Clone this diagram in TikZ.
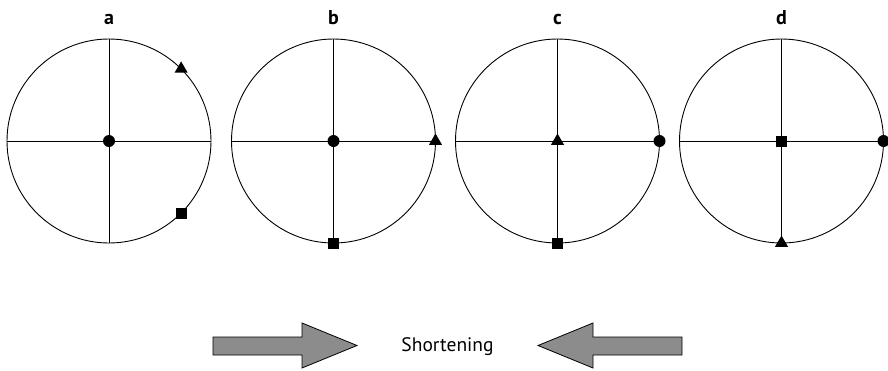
\documentclass[tikz,border=0pt]{standalone}
\usepackage{fontspec}
\setmainfont{PT Sans}
\usetikzlibrary{shapes.geometric}
\begin{document}
\begin{tikzpicture}[x=1pt,y=-1pt,
  ring/.style={circle,draw=black,line width=0.9pt,minimum size=204pt,inner sep=0pt,outer sep=0pt},
  axis/.style={line width=0.9pt,draw=black},
  dotm/.style={circle,fill=black,minimum size=12pt,inner sep=0pt},
  sqm/.style={rectangle,fill=black,minimum size=11pt,inner sep=0pt},
  trim/.style={regular polygon,regular polygon sides=3,fill=black,minimum size=15pt,inner sep=0pt},
  lbl/.style={font=\bfseries\fontsize{20}{20}\selectfont,anchor=base,inner sep=0pt},
  bigarrow/.style={draw=black,line width=0.8pt,fill=black!45}]
\useasboundingbox (0,0) rectangle (888,370);
% circles
\foreach \n/\x in {a/109,b/333.5,c/557.5,d/781.5}{
  \node[ring] (c\n) at (\x,141) {};
  \draw[axis] (c\n.west) -- (c\n.east);
  \draw[axis] (c\n.north) -- (c\n.south);
  \node[lbl] (l\n) at (\x,24) {\n};
}
% markers a
\node[dotm] (ma1) at (ca.center) {};
\node[trim] (ma2) at (ca.45) {};
\node[sqm] (ma3) at (ca.-45) {};
% markers b
\node[dotm] (mb1) at (cb.center) {};
\node[trim] (mb2) at (cb.east) {};
\node[sqm] (mb3) at (cb.south) {};
% markers c
\node[trim] (mc1) at (cc.center) {};
\node[dotm] (mc2) at (cc.east) {};
\node[sqm] (mc3) at (cc.south) {};
% markers d
\node[sqm] (md1) at (cd.center) {};
\node[dotm] (md2) at (cd.east) {};
\node[trim] (md3) at (cd.south) {};
% arrows
\draw[bigarrow] (213,337) -- (302,337) -- (302,323) -- (357,345.5) -- (302,368) -- (302,355) -- (213,355) -- cycle;
\draw[bigarrow] (682,337) -- (593,337) -- (593,323) -- (538,345.5) -- (593,368) -- (593,355) -- (682,355) -- cycle;
\node[font=\fontsize{19.5}{19.5}\selectfont,anchor=base,inner sep=0pt] (txt) at (447.5,351.5) {Shortening};
\end{tikzpicture}
\end{document}
